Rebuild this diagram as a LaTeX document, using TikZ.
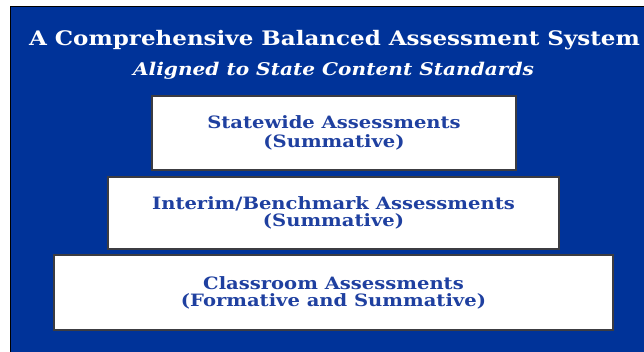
\documentclass[tikz,border=0pt]{standalone}
\usepackage{fontspec}
\setmainfont{DejaVu Serif}
\newfontfamily\widefont[FakeStretch=1.15]{DejaVu Serif}
\usepackage{tikz}
\definecolor{slideblue}{RGB}{0,51,153}
\definecolor{boxtext}{RGB}{31,64,160}
\definecolor{boxline}{RGB}{60,60,65}
\tikzset{
  tierbox/.style={draw=boxline, fill=white, line width=1.6pt, align=center,
    text=boxtext, font=\widefont\bfseries\fontsize{17}{19}\selectfont, inner sep=0pt}
}

\begin{document}
\begin{tikzpicture}[x=1pt, y=-1pt]
        \useasboundingbox (0, 0) rectangle (644, 351);
        \fill[white] (0, 0) rectangle (644, 351);
        \filldraw[fill=slideblue, draw=black, line width=0.8pt]
        (10, 6) rectangle (646, 353);

        \node[text=white, font=\widefont\bfseries\fontsize{20}{22}\selectfont, anchor=base]
        (title) at (334.5, 45) {A Comprehensive Balanced Assessment System};
        \node[text=white, font=\widefont\bfseries\itshape\fontsize{17.5}{19}\selectfont, anchor=base]
        (subtitle) at (333.5, 75) {Aligned to State Content Standards};

        \node[tierbox, minimum width=364pt, minimum height=74pt]
        (statewide) at (334, 133) {Statewide Assessments\\(Summative)};
        \node[tierbox, minimum width=451pt, minimum height=72pt, font=\widefont\bfseries\fontsize{17}{17}\selectfont]
        (interim) at (333.5, 213) {Interim/Benchmark Assessments\\(Summative)};
        \node[tierbox, minimum width=559pt, minimum height=75pt, font=\widefont\bfseries\fontsize{17}{17}\selectfont]
        (classroom) at (333.5, 292.5) {Classroom Assessments\\(Formative and Summative)};

    \end{tikzpicture}
\end{document}
